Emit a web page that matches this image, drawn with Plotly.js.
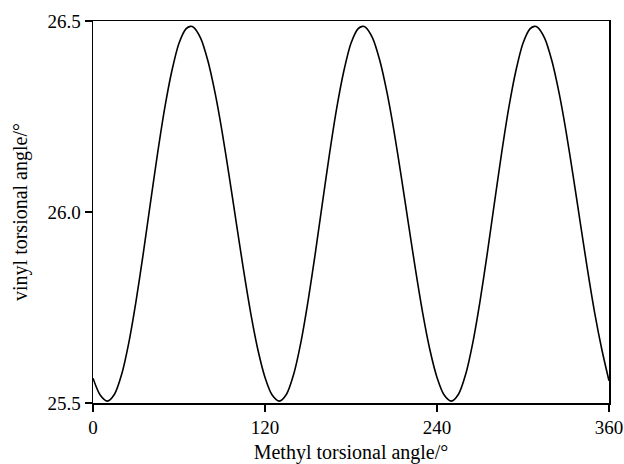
<!DOCTYPE html>
<html>
<head>
<meta charset="utf-8">
<script src="https://cdn.plot.ly/plotly-3.0.1.min.js"></script>
<style>html,body{margin:0;padding:0;background:#fff;}#chart{width:624px;height:464px;}</style>
</head>
<body>
<div id="chart"></div>
<script>
// Methyl torsional angle (deg)
const methylAngle = [0,5,10,15,20,25,30,35,40,45,50,55,60,65,68,70,75,80,85,90,95,100,105,110,115,120,125,
  130,135,140,145,150,155,160,165,170,175,180,185,188,190,195,200,205,210,215,220,225,230,235,240,245,
  250,255,260,265,270,275,280,285,290,295,300,305,308,310,315,320,325,330,335,340,345,350,355,360];
// Vinyl torsional angle (deg)
const vinylAngle = [25.565,25.521,25.505,25.523,25.575,25.658,25.766,25.890,26.022,26.152,26.271,26.369,26.442,26.480,26.486,26.484,26.456,26.398,26.315,26.212,26.094,25.971,25.849,25.736,25.640,25.567,25.521,
  25.505,25.523,25.575,25.658,25.766,25.890,26.022,26.152,26.271,26.369,26.442,26.480,26.486,26.484,26.456,26.398,26.315,26.212,26.094,25.971,25.849,25.736,25.640,25.567,25.521,
  25.505,25.523,25.575,25.658,25.766,25.890,26.022,26.152,26.271,26.369,26.442,26.480,26.486,26.484,26.456,26.398,26.315,26.212,26.094,25.971,25.849,25.736,25.640,25.558];
const xTicks = [0,120,240,360];
const yTicks = [25.5,26.0,26.5];

const font = {family: '"Liberation Serif", "Times New Roman", serif', color: '#000'};

Plotly.newPlot('chart', [{
  x: methylAngle, y: vinylAngle, type: 'scatter', mode: 'lines',
  line: {color: '#000', width: 1.6, shape: 'spline', smoothing: 0.8},
  hoverinfo: 'skip'
}], {
  width: 624, height: 464,
  margin: {l: 93, r: 15, t: 21, b: 61},
  paper_bgcolor: '#fff', plot_bgcolor: '#fff',
  showlegend: false,
  xaxis: {
    range: [0, 360], tickvals: xTicks, ticktext: xTicks.map(String),
    ticks: 'outside', ticklen: 7, tickwidth: 1.5, tickcolor: '#000',
    showline: true, linecolor: '#000', linewidth: 1.5, mirror: true,
    showgrid: false, zeroline: false,
    tickfont: Object.assign({size: 19}, font),
    title: {text: 'Methyl torsional angle/°', font: Object.assign({size: 20}, font), standoff: 8}
  },
  yaxis: {
    range: [25.5, 26.5], tickvals: yTicks, ticktext: yTicks.map(v => v.toFixed(1)),
    ticks: 'outside', ticklen: 7, tickwidth: 1.5, tickcolor: '#000',
    showline: true, linecolor: '#000', linewidth: 1.5, mirror: true,
    showgrid: false, zeroline: false,
    tickfont: Object.assign({size: 19}, font),
    title: {text: 'vinyl torsional angle/°', font: Object.assign({size: 20}, font), standoff: 14}
  }
}, {staticPlot: true});
</script>
</body>
</html>
